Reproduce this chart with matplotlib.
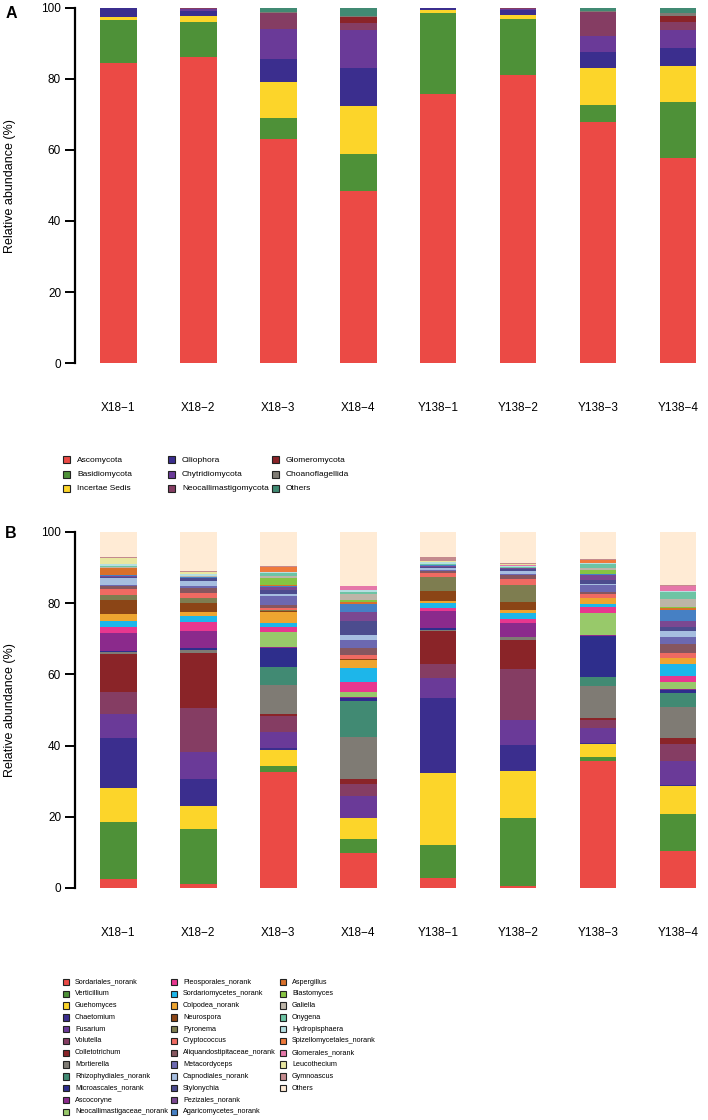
import numpy as np
import matplotlib as mpl
mpl.use('Agg')
import matplotlib.pyplot as plt
from matplotlib.patches import Rectangle

plt.rcParams['font.family'] = ['Liberation Sans', 'DejaVu Sans']
W, H = 708, 1120

samples = ["X18\u22121", "X18\u22122", "X18\u22123", "X18\u22124",
           "Y138\u22121", "Y138\u22122", "Y138\u22123", "Y138\u22124"]

# ---- panel A: phylum level (%) ----
phyla = ["Ascomycota", "Basidiomycota", "Incertae Sedis",
         "Ciliophora", "Chytridiomycota", "Neocallimastigomycota",
         "Glomeromycota", "Choanoflagellida", "Others"]
phylum_colors = ["#EB4A45", "#4E9138", "#FCD52A", "#3B2E8E", "#6A3A98",
                 "#853D63", "#8A2428", "#7F7B74", "#418A73"]

ascomycota = [84.5, 86.1, 63.1, 48.5, 75.8, 81.0, 67.7, 57.7]
basidiomycota = [12.1, 9.8, 5.9, 10.4, 22.7, 15.9, 4.8, 15.8]
incertae_sedis = [0.7, 1.6, 10.0, 13.4, 0.7, 0.9, 10.6, 10.0]
ciliophora = [2.5, 1.6, 6.4, 10.6, 0.7, 1.6, 4.4, 5.1]
chytridiomycota = [0.1, 0.4, 8.5, 10.8, 0.1, 0.2, 4.6, 5.2]
neocallimastigomycota = [0.1, 0.4, 4.5, 2.0, 0.0, 0.3, 6.7, 2.1]
glomeromycota = [0.0, 0.1, 0.1, 1.6, 0.0, 0.0, 0.0, 1.6]
choanoflagellida = [0.0, 0.0, 0.2, 0.4, 0.0, 0.1, 0.3, 0.9]
phylum_others = [0.0, 0.0, 1.3, 2.3, 0.0, 0.0, 0.9, 1.6]

phylum_values = [ascomycota, basidiomycota, incertae_sedis, ciliophora,
                 chytridiomycota, neocallimastigomycota, glomeromycota,
                 choanoflagellida, phylum_others]

# ---- panel B: genus level (%) ----
genera = ["Sordariales_norank", "Verticillium", "Guehomyces", "Chaetomium",
          "Fusarium", "Volutella", "Colletotrichum", "Mortierella",
          "Rhizophydiales_norank", "Microascales_norank", "Ascocoryne",
          "Neocallimastigaceae_norank",
          "Pleosporales_norank", "Sordariomycetes_norank", "Colpodea_norank",
          "Neurospora", "Pyronema", "Cryptococcus",
          "Aliquandostipitaceae_norank", "Metacordyceps", "Capnodiales_norank",
          "Stylonychia", "Pezizales_norank", "Agaricomycetes_norank",
          "Aspergillus", "Blastomyces", "Galiella", "Onygena", "Hydropisphaera",
          "Spizellomycetales_norank", "Glomerales_norank", "Leucothecium",
          "Gymnoascus", "Others"]
genus_colors = ["#EB4A45", "#4E9138", "#FCD52A", "#3B2E8E", "#6A3A98",
                "#853D63", "#8A2428", "#7F7B74", "#418A73", "#2E2E8C",
                "#8B2A8C", "#98C96A",
                "#E8378F", "#1DB6EA", "#EEA530", "#8B4516", "#7E7D50",
                "#EF6A62", "#86565F", "#6C68B0", "#A6BEE0", "#4C4C8E",
                "#7B4891", "#4680C4",
                "#D8702B", "#86C443", "#BDB5A8", "#6DC4A4", "#B5DFE1",
                "#EF7A3C", "#E577A9", "#E8E6A0", "#C48A8E", "#FFEBD5"]

# one list per sample, same order as genera
x18_1 = [2.4, 16.2, 9.4, 14.0, 6.8, 6.3, 10.7, 0.6, 0.0, 0.3, 4.9, 0.0,
         1.8, 1.6, 1.9, 3.9, 1.5, 1.6, 1.0, 0.3, 1.8, 0.5, 0.2, 0.1,
         2.2, 0.0, 0.2, 0.2, 0.5, 0.0, 0.1, 1.6, 0.4, 7.0]
x18_2 = [1.0, 15.6, 6.4, 7.6, 7.7, 12.2, 15.4, 0.9, 0.0, 0.5, 4.9, 0.0,
         2.4, 1.9, 0.9, 2.7, 1.3, 1.4, 1.6, 0.3, 1.5, 0.8, 0.2, 0.1,
         0.0, 0.0, 0.2, 0.2, 0.5, 0.0, 0.1, 0.6, 0.1, 11.0]
x18_3 = [32.7, 1.7, 4.5, 0.3, 4.7, 4.5, 0.4, 8.2, 5.0, 5.5, 0.1, 4.4,
         1.4, 1.0, 3.2, 0.2, 0.2, 0.6, 0.9, 2.6, 0.5, 1.1, 0.9, 0.2,
         0.2, 2.0, 0.7, 0.7, 0.4, 1.5, 0.0, 0.0, 0.1, 9.6]
x18_4 = [9.7, 4.1, 5.8, 0.2, 6.1, 3.2, 1.5, 11.8, 10.1, 1.0, 0.1, 1.4,
         3.0, 3.7, 2.4, 0.1, 0.1, 1.1, 1.9, 2.5, 1.3, 3.9, 2.4, 2.3,
         0.5, 0.6, 1.9, 0.5, 0.4, 0.2, 1.0, 0.0, 0.1, 15.1]
y138_1 = [2.9, 9.2, 20.1, 21.1, 5.6, 3.9, 9.4, 0.3, 0.0, 0.4, 4.9, 0.0,
          0.8, 1.5, 0.5, 2.8, 4.1, 1.1, 0.4, 0.4, 0.5, 0.4, 0.2, 0.1,
          0.0, 0.0, 0.2, 0.2, 0.5, 0.0, 0.1, 0.3, 1.1, 7.0]
y138_2 = [0.7, 19.1, 13.1, 7.3, 7.0, 14.3, 8.2, 0.7, 0.0, 0.2, 3.7, 0.0,
          1.4, 1.5, 0.9, 2.3, 4.7, 1.7, 1.1, 0.4, 0.7, 0.6, 0.2, 0.1,
          0.0, 0.0, 0.1, 0.1, 0.4, 0.0, 0.1, 0.4, 0.3, 8.7]
y138_3 = [35.7, 1.2, 3.5, 0.4, 4.2, 2.2, 0.6, 9.0, 2.5, 11.6, 0.1, 6.2,
          1.7, 1.0, 1.5, 0.1, 0.1, 0.9, 0.7, 1.9, 0.4, 0.9, 1.5, 0.2,
          0.2, 0.9, 0.6, 1.3, 0.2, 0.9, 0.0, 0.0, 0.1, 7.7]
y138_4 = [10.4, 10.3, 8.0, 0.2, 6.8, 4.7, 1.6, 8.8, 4.0, 0.9, 0.1, 2.0,
          1.8, 3.2, 1.7, 0.1, 0.1, 1.2, 2.5, 2.2, 1.6, 1.2, 1.6, 3.1,
          0.5, 0.4, 2.2, 1.9, 0.2, 0.2, 1.4, 0.0, 0.1, 15.0]

genus_values = np.column_stack([x18_1, x18_2, x18_3, x18_4,
                                y138_1, y138_2, y138_3, y138_4])


def px_rect(left, top, right, bottom):
    return [left / W, 1 - bottom / H, (right - left) / W, (bottom - top) / H]


def draw_panel(fig, rect, values, colors):
    ax = fig.add_axes(rect)
    x = np.arange(len(samples))
    bottom = np.zeros(len(samples))
    for row, c in zip(values, colors):
        row = np.asarray(row, dtype=float)
        ax.bar(x, row, width=0.46, bottom=bottom, color=c, linewidth=0)
        bottom += row
    ax.set_xlim(-0.54, 7.375)
    ax.set_ylim(0, 100)
    for s in ["top", "right", "bottom"]:
        ax.spines[s].set_visible(False)
    ax.spines["left"].set_linewidth(1.6)
    ax.set_yticks([0, 20, 40, 60, 80, 100])
    ax.tick_params(axis='y', length=7, width=1.4, pad=3, labelsize=8.5)
    ax.set_xticks(x)
    ax.set_xticklabels(samples)
    ax.tick_params(axis='x', length=0, pad=28, labelsize=8.5)
    return ax


fig = plt.figure(figsize=(W / 100, H / 100), dpi=100)

draw_panel(fig, px_rect(75, 7.5, 708, 363.3), phylum_values, phylum_colors)
draw_panel(fig, px_rect(75, 532, 708, 888), genus_values, genus_colors)

fig.text(10 / W, 1 - 186 / H, "Relative abundance (%)", rotation=90,
         ha='center', va='center', fontsize=9)
fig.text(10 / W, 1 - 710 / H, "Relative abundance (%)", rotation=90,
         ha='center', va='center', fontsize=9)
fig.text(11 / W, 1 - 13 / H, "A", ha='center', va='center',
         fontsize=11.5, fontweight='bold')
fig.text(11 / W, 1 - 533 / H, "B", ha='center', va='center',
         fontsize=11.5, fontweight='bold')


def draw_legend(names, colors, col_x, top_y, row_h, nrows, box, gap, fs):
    for i, (name, c) in enumerate(zip(names, colors)):
        col, row = divmod(i, nrows)
        mx = col_x[col]
        my = top_y + row * row_h
        fig.add_artist(Rectangle(((mx - box / 2) / W, 1 - (my + box / 2) / H),
                                 box / W, box / H, facecolor=c,
                                 edgecolor='#222222', linewidth=0.8,
                                 transform=fig.transFigure))
        fig.text((mx + gap) / W, 1 - my / H, name, ha='left', va='center',
                 fontsize=fs)


draw_legend(phyla, phylum_colors, [66, 171, 275], 460, 14, 3, 7, 11, 6.0)
draw_legend(genera, genus_colors, [66, 174, 283], 982, 11.8, 12, 6.5, 9, 5.2)

fig.savefig("out.png", dpi=100)
